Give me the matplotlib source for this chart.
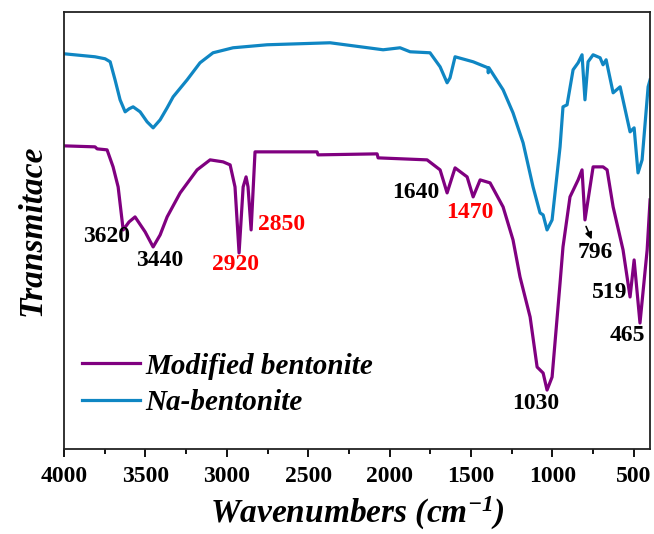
import matplotlib
matplotlib.use('Agg')
import matplotlib.pyplot as plt
import numpy as np

plt.rcParams['font.family'] = 'Liberation Serif'
plt.rcParams['font.weight'] = 'bold'
plt.rcParams['mathtext.fontset'] = 'custom'
plt.rcParams['mathtext.rm'] = 'Liberation Serif:italic:bold'
plt.rcParams['mathtext.it'] = 'Liberation Serif:italic:bold'
plt.rcParams['mathtext.default'] = 'rm'

# Na-bentonite spectrum (wavenumber, transmittance a.u.)
na_wn = [4000, 3810, 3748, 3717, 3687, 3656, 3625, 3601, 3576, 3533, 3490, 3453,
         3410, 3367, 3330, 3244, 3165, 3085, 2962, 2753, 2366, 2040, 1936, 1874,
         1752, 1690, 1647, 1629, 1598, 1487, 1396, 1394, 1390, 1303, 1242, 1180,
         1119, 1076, 1057, 1033, 1002, 953, 935, 910, 873, 842, 818, 800, 781,
         750, 707, 689, 670, 627, 584, 523, 498, 474, 449, 412, 400]
na_t = [395, 392, 390, 387, 369, 349, 337, 340, 342, 337, 327, 321,
        329, 341, 352, 369, 386, 396, 401, 404, 406, 399, 401, 397,
        396, 382, 366, 371, 392, 387, 381, 376, 381, 359, 336, 306,
        262, 236, 234, 219, 229, 302, 342, 344, 379, 386, 394, 349, 387,
        394, 391, 384, 389, 356, 362, 317, 321, 276, 289, 362, 369]

# Modified bentonite spectrum
mod_wn = [4000, 3810, 3797, 3736, 3699, 3668, 3637, 3601, 3564, 3502, 3453,
          3410, 3367, 3287, 3183, 3103, 3023, 2980, 2950, 2925, 2900, 2882,
          2870, 2851, 2827, 2446, 2440, 2077, 2071, 1770, 1690, 1647, 1598,
          1524, 1487, 1444, 1383, 1303, 1242, 1199, 1137, 1094, 1057, 1033,
          1002, 953, 935, 892, 842, 818, 800, 750, 689, 664, 627, 566, 523,
          498, 462, 418, 400]
mod_t = [303, 302, 300, 299, 282, 262, 219, 227, 232, 217, 202,
         214, 232, 256, 279, 289, 287, 284, 262, 196, 262, 272,
         262, 219, 297, 297, 294, 295, 291, 289, 279, 256, 281,
         272, 252, 269, 266, 242, 209, 172, 132, 82, 76, 59,
         72, 166, 202, 252, 269, 279, 229, 282, 282, 279, 242, 199, 152,
         189, 126, 199, 249]

# peak labels
peaks = ['3620', '3440', '2920', '2850', '1640', '1470', '796', '519', '465', '1030']
peak_colors = ['black', 'black', 'red', 'red', 'black', 'red', 'black', 'black', 'black', 'black']
label_x = [3742, 3410, 2950, 2661, 1838, 1506, 738, 646, 541, 1100]
label_y = [212, 188, 184, 224, 256, 236, 196, 156, 114, 46]

purple = '#800080'
blue = '#0f86c3'

fig = plt.figure(figsize=(6.54, 5.34), dpi=100)
ax = fig.add_axes([0.098, 0.159, 0.896, 0.819])

ax.plot(mod_wn, mod_t, color=purple, lw=2.3, label='Modified bentonite')
ax.plot(na_wn, na_t, color=blue, lw=2.3, label='Na-bentonite')

for lab, c, x, y in zip(peaks, peak_colors, label_x, label_y):
    ax.text(x, y, lab, color=c, fontsize=17, fontweight='bold',
            ha='center', va='center')

ax.annotate('', xy=(752, 207), xytext=(800, 225),
            arrowprops=dict(arrowstyle='-|>', color='black', lw=1.2,
                            mutation_scale=10))

ax.set_xlim(4000, 400)
ax.set_ylim(0, 437)
ax.set_xticks(np.arange(4000, 399, -500))
ax.set_xticks(np.arange(3750, 399, -500), minor=True)
ax.set_yticks([])
ax.tick_params(axis='x', which='major', length=6, width=1.3, labelsize=17, pad=6)
ax.tick_params(axis='x', which='minor', length=3.5, width=1.3)
for lab in ax.get_xticklabels():
    lab.set_fontweight('bold')
for sp in ax.spines.values():
    sp.set_linewidth(1.3)
    sp.set_color('#222222')

ax.set_xlabel('Wavenumbers (cm$^{-1}$)', fontsize=24, fontweight='bold',
              fontstyle='italic', labelpad=6)
ax.set_ylabel('Transmitace', fontsize=24, fontweight='bold',
              fontstyle='italic', labelpad=12)

leg = ax.legend(loc='lower left', bbox_to_anchor=(-0.014, 0.015), frameon=False,
                prop={'family': 'Liberation Serif', 'weight': 'bold',
                      'style': 'italic', 'size': 21},
                handlelength=2.0, handletextpad=0.18, labelspacing=0.33)

fig.savefig('out.png', dpi=100)
